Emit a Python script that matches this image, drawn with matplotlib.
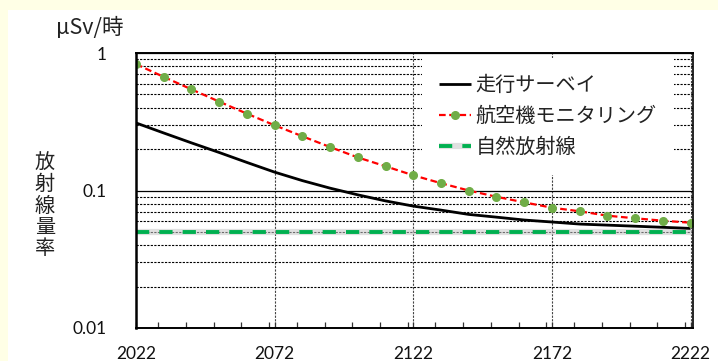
import matplotlib
matplotlib.use("Agg")
import matplotlib.pyplot as plt
from matplotlib.ticker import FixedLocator, NullFormatter, FixedFormatter, MultipleLocator
from matplotlib.patches import Rectangle

JP = ["Noto Sans CJK JP", "DejaVu Sans"]
NUM = ["Lato", "DejaVu Sans"]

# Years (every 10 years) and dose rates in µSv/h
years = [2022, 2032, 2042, 2052, 2062, 2072, 2082, 2092, 2102, 2112, 2122,
         2132, 2142, 2152, 2162, 2172, 2182, 2192, 2202, 2212, 2222]
car_survey = [0.310, 0.262, 0.222, 0.189, 0.160, 0.136, 0.118, 0.104, 0.093, 0.084, 0.077,
              0.072, 0.067, 0.064, 0.061, 0.059, 0.057, 0.056, 0.055, 0.054, 0.053]
aircraft = [0.830, 0.670, 0.544, 0.443, 0.362, 0.298, 0.248, 0.207, 0.174, 0.150, 0.129,
            0.113, 0.100, 0.090, 0.082, 0.075, 0.0706, 0.0656, 0.0628, 0.0603, 0.0583]
natural = [0.050, 0.050]
natural_years = [2022, 2223]

series_labels = ["走行サーベイ", "航空機モニタリング", "自然放射線"]
x_ticks = [2022, 2072, 2122, 2172, 2222]
y_ticks = [0.01, 0.1, 1]
y_tick_labels = ["0.01", "0.1", "1"]

W, H = 718, 361
fig = plt.figure(figsize=(W / 100, H / 100), dpi=100)
fig.patch.set_facecolor("#FFFFE6")
fig.patches.append(Rectangle((8 / W, 0), 1 - 8 / W, 1 - 10 / H, transform=fig.transFigure,
                             facecolor="white", edgecolor="none", zorder=-10))

left, right, top, bottom = 136, 693.3, 53, 328
ax = fig.add_axes([left / W, 1 - bottom / H, (right - left) / W, (bottom - top) / H])
ax.set_facecolor("white")
ax.set_yscale("log")
ax.set_ylim(0.01, 1)
ax.set_xlim(2022, 2223)

# grid lines
ax.yaxis.set_minor_locator(FixedLocator([m * 10.0 ** e for e in (-2, -1) for m in range(2, 10)]))
ax.yaxis.set_minor_formatter(NullFormatter())
ax.yaxis.grid(True, which="minor", color="black", linestyle=(0, (2, 1.2)), linewidth=0.8)
ax.yaxis.grid(True, which="major", color="black", linestyle="-", linewidth=0.9)
for xv in x_ticks[1:]:
    ax.axvline(xv, color="#444444", linestyle=(0, (2, 1.2)), linewidth=0.8, zorder=1)

# series
l_car, = ax.plot(years, car_survey, color="black", linewidth=2.0, zorder=4,
                 solid_capstyle="butt")
l_air, = ax.plot(years, aircraft, color="#FF0000", linewidth=1.6, dashes=(3.0, 1.6),
                 marker="o", markersize=5.5, markerfacecolor="#70AD47",
                 markeredgecolor="#70AD47", zorder=5)
glow, = ax.plot(natural_years, natural, color="#C8C8C8", linewidth=4.5, alpha=0.55, zorder=2,
                solid_capstyle="butt")
l_nat, = ax.plot(natural_years, natural, color="#00B050", linewidth=2.8, dashes=(3.4, 2.6),
                 zorder=3)

# axes styling
ax.set_yticks(y_ticks)
ax.yaxis.set_major_formatter(FixedFormatter(y_tick_labels))
ax.tick_params(axis="y", which="both", length=0, pad=21)
ax.set_xticks(x_ticks)
ax.xaxis.set_minor_locator(MultipleLocator(10))
ax.tick_params(axis="x", which="both", direction="in", length=4, width=0.9, pad=13, color="#333333")
for lab in ax.get_xticklabels() + ax.get_yticklabels():
    lab.set_fontfamily(NUM)
    lab.set_fontsize(12.5)
    lab.set_color("#111111")

ax.spines["left"].set_linewidth(1.8)
ax.spines["bottom"].set_linewidth(1.4)
ax.spines["top"].set_linewidth(1.4)
ax.spines["right"].set_linewidth(1.2)
for s in ax.spines.values():
    s.set_color("black")
    s.set_zorder(6)

# unit and vertical axis title
fig.text(90 / W, 1 - 28 / H, "μSv/時", family=JP, fontsize=15.5, ha="center", va="center",
         color="#222222")
fig.text(45 / W, 1 - 206 / H, "\n".join("放射線量率"), family=JP, fontsize=14.5, ha="center",
         va="center", linespacing=1.02, color="#222222")

leg = ax.legend([l_car, l_air, (glow, l_nat)], series_labels,
                loc="upper left", bbox_to_anchor=(422 / W, 1 - 58 / H),
                bbox_transform=fig.transFigure, borderaxespad=0, borderpad=0.85,
                handlelength=1.6, handletextpad=0.2, labelspacing=0.5,
                frameon=True, fancybox=False, numpoints=1,
                prop={"family": JP, "size": 14.5})
leg.get_frame().set_facecolor("white")
leg.get_frame().set_edgecolor("none")
leg.get_frame().set_alpha(1)
leg.set_zorder(7)
for t in leg.get_texts():
    t.set_color("#222222")

fig.savefig("out.png", dpi=100, facecolor=fig.get_facecolor())
